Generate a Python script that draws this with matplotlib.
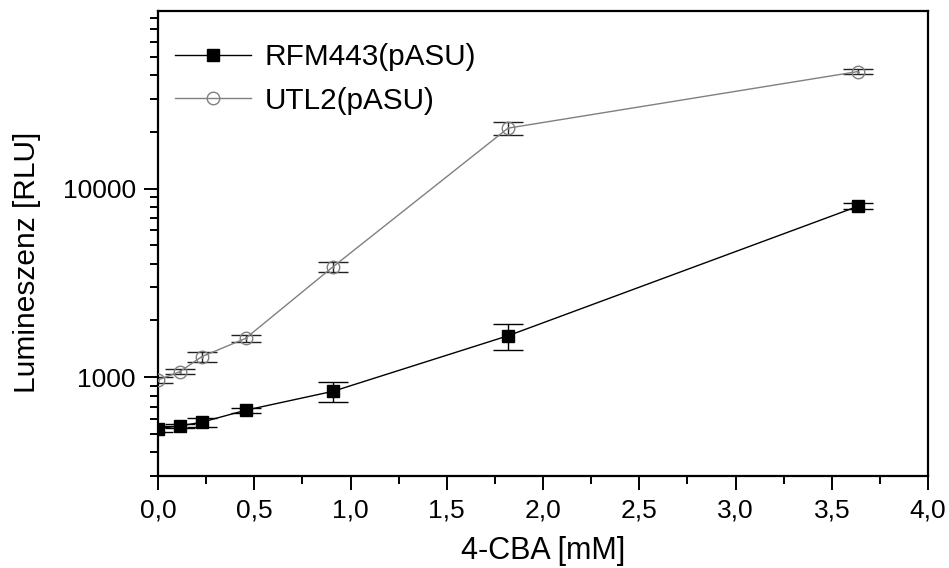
import matplotlib
matplotlib.use("Agg")
import matplotlib.pyplot as plt
from matplotlib.ticker import FuncFormatter, LogLocator, MultipleLocator, NullFormatter, FixedLocator

plt.rcParams['font.family'] = ['Liberation Sans', 'DejaVu Sans']

# 4-CBA concentration [mM]
conc = [0.0, 0.114, 0.227, 0.455, 0.909, 1.818, 3.636]

# RFM443(pASU)
rfm_mean = [535, 553, 578, 669, 843, 1660, 8060]
rfm_sd = [20, 15, 30, 22, 100, 260, 300]

# UTL2(pASU)
utl_mean = [968, 1072, 1286, 1608, 3850, 20900, 41700]
utl_sd = [35, 33, 80, 62, 250, 1700, 1230]

fig = plt.figure(figsize=(9.49, 5.68), dpi=100)
ax = fig.add_axes([0.1665, 0.162, 0.8115, 0.819])

ax.errorbar(conc, rfm_mean, yerr=rfm_sd, fmt='none', ecolor='black',
            elinewidth=1, capsize=11, capthick=1, zorder=2)
ax.errorbar(conc, utl_mean, yerr=utl_sd, fmt='none', ecolor='#222222',
            elinewidth=1, capsize=11, capthick=1, zorder=2)

ax.plot(conc, rfm_mean, color='black', lw=1, marker='s', ms=8,
        mfc='black', mec='black', label='RFM443(pASU)', zorder=3)
ax.plot(conc, utl_mean, color='#808080', lw=1, marker='o', ms=9,
        mfc='none', mec='#808080', mew=1, label='UTL2(pASU)', zorder=3)
# centre dot of the open circles
ax.plot(conc, utl_mean, ls='none', marker='.', ms=2, color='#808080', zorder=4)

ax.set_yscale('log')
ax.set_xlim(0, 4.0)
ax.set_ylim(300, 87500)

ax.xaxis.set_major_locator(MultipleLocator(0.5))
ax.xaxis.set_minor_locator(MultipleLocator(0.25))
ax.xaxis.set_major_formatter(FuncFormatter(lambda v, p: f"{v:.1f}".replace('.', ',')))

ax.yaxis.set_major_locator(FixedLocator([1000, 10000]))
ax.yaxis.set_major_formatter(FuncFormatter(lambda v, p: f"{int(v)}"))
ax.yaxis.set_minor_locator(LogLocator(base=10, subs=range(2, 10), numticks=20))
ax.yaxis.set_minor_formatter(NullFormatter())

for s in ax.spines.values():
    s.set_linewidth(1.6)

ax.tick_params(which='major', direction='out', length=10, width=1.4,
               labelsize=19, pad=6, top=False, right=False)
ax.tick_params(which='minor', direction='out', length=6, width=1.4,
               top=False, right=False)

ax.set_xlabel('4-CBA [mM]', fontsize=22, labelpad=10)
ax.set_ylabel('Lumineszenz [RLU]', fontsize=21.5)
ax.yaxis.set_label_coords(-0.152, 0.46)

ax.legend(loc='upper left', bbox_to_anchor=(0.022, 0.93), frameon=False,
          fontsize=21.4, numpoints=1, handlelength=2.56, handletextpad=0.45,
          labelspacing=0.52, borderaxespad=0, borderpad=0)

fig.savefig('out.png', dpi=100)
